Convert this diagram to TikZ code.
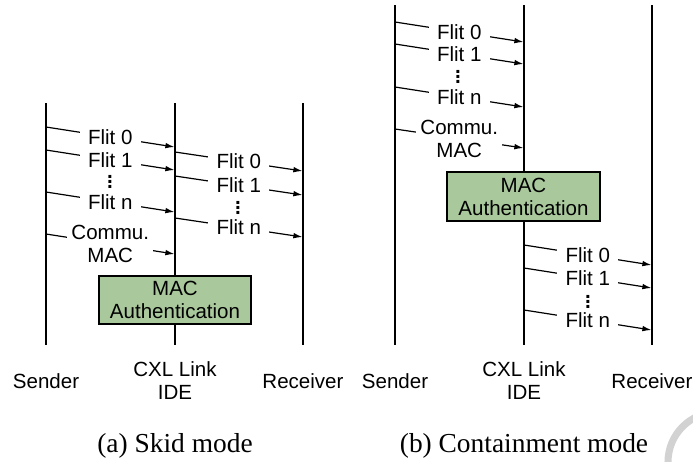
\documentclass[tikz,border=0pt]{standalone}
\usepackage{fontspec}
\setmainfont{Liberation Serif}
\setsansfont{Liberation Sans}
\usetikzlibrary{arrows.meta}
\definecolor{macgreen}{HTML}{A9C89B}
\newcommand{\flitdots}{\vbox{\baselineskip3.6pt\lineskiplimit0pt\hbox{\bfseries .}\hbox{\bfseries .}\hbox{\bfseries .}}}

\begin{document}
\begin{tikzpicture}[x=0.025cm, y=-0.025cm, >={Latex[length=6.5pt,width=4pt]},
    life/.style={line width=1.05pt},
    msg/.style={->, line width=0.85pt},
    lbl/.style={fill=white, inner xsep=6pt, inner ysep=0pt, align=center,
        font=\sffamily\fontsize{14.6}{16.3}\selectfont},
    dotsnode/.style={inner sep=0pt, font=\sffamily\fontsize{14.6}{16.3}\selectfont},
    role/.style={align=center, font=\sffamily\fontsize{14.6}{16.3}\selectfont},
    macbox/.style={draw, line width=0.9pt, fill=macgreen, minimum width=3.8cm,
        minimum height=1.2cm, inner sep=0pt, align=center,
        font=\sffamily\fontsize{14.6}{16.3}\selectfont},
    capt/.style={font=\fontsize{19.5}{22}\selectfont}]
    \useasboundingbox (0,0) rectangle (693,462);

    % (a) Skid mode
    \coordinate (sta) at (46,103);  \coordinate (sba) at (46,345);
    \coordinate (cta) at (175,103); \coordinate (cba) at (175,345);
    \coordinate (rta) at (303,103); \coordinate (rba) at (303,345);
    \draw[life] (sta) -- (sba);
    \draw[life] (cta) -- (cba);
    \draw[life] (rta) -- (rba);

    \foreach \y/\t [count=\i] in {127/0,150/1,192/n}{
        \coordinate (sa\i) at (46,\y);
        \coordinate (ca\i) at (174.5,\y+20);
        \draw[msg] (sa\i) -- node[lbl] (fa\i) {Flit \t} (ca\i);
    }
    \coordinate (sa4) at (46,234);
    \coordinate (ca4) at (174.5,254);
    \draw[msg] (sa4) -- node[lbl, inner xsep=3pt] (fa4) {Commu.\\MAC} (ca4);
    \node[dotsnode] (da) at (110,182) {\flitdots};

    \foreach \y/\t [count=\i] in {152/0,176/1,218/n}{
        \coordinate (cra\i) at (175,\y);
        \coordinate (ra\i) at (302.5,\y+19);
        \draw[msg] (cra\i) -- node[lbl] (ga\i) {Flit \t} (ra\i);
    }
    \node[dotsnode] (dra) at (238,208) {\flitdots};

    \node[macbox] (maca) at (175,300) {MAC\\Authentication};

    \node[role] (senda) at (46,381) {Sender};
    \node[role] (cxla) at (175,381) {CXL Link\\IDE};
    \node[role] (recva) at (303,381) {Receiver};
    \node[capt] (capa) at (175,446) {(a) Skid mode};

    % (b) Containment mode
    \coordinate (stb) at (395,5);  \coordinate (sbb) at (395,345);
    \coordinate (ctb) at (524,5);  \coordinate (cbb) at (524,345);
    \coordinate (rtb) at (652,5);  \coordinate (rbb) at (652,345);
    \draw[life] (stb) -- (sbb);
    \draw[life] (ctb) -- (cbb);
    \draw[life] (rtb) -- (rbb);

    \foreach \y/\t [count=\i] in {22/0,44/1,87/n}{
        \coordinate (sb\i) at (395,\y);
        \coordinate (cb\i) at (523.5,\y+20);
        \draw[msg] (sb\i) -- node[lbl] (fb\i) {Flit \t} (cb\i);
    }
    \coordinate (sb4) at (395,129);
    \coordinate (cb4) at (523.5,148);
    \draw[msg] (sb4) -- node[lbl, inner xsep=3pt] (fb4) {Commu.\\MAC} (cb4);
    \node[dotsnode] (db) at (458,77) {\flitdots};

    \node[macbox, minimum width=3.83cm, minimum height=1.23cm] (macb) at (523.5,196.5) {MAC\\Authentication};

    \foreach \y/\t [count=\i] in {245/0,268/1,310/n}{
        \coordinate (crb\i) at (524,\y);
        \coordinate (rb\i) at (651.5,\y+20);
        \draw[msg] (crb\i) -- node[lbl] (gb\i) {Flit \t} (rb\i);
    }
    \node[dotsnode] (drb) at (588,302) {\flitdots};

    \node[role] (sendb) at (395,381) {Sender};
    \node[role] (cxlb) at (524,381) {CXL Link\\IDE};
    \node[role] (recvb) at (652,381) {Receiver};
    \node[capt] (capb) at (524,446) {(b) Containment mode};

    \begin{scope}
        \clip (0,0) rectangle (693,462);
        \draw[gray!35, line width=5pt] (718,462) circle (50);
    \end{scope}
\end{tikzpicture}
\end{document}
